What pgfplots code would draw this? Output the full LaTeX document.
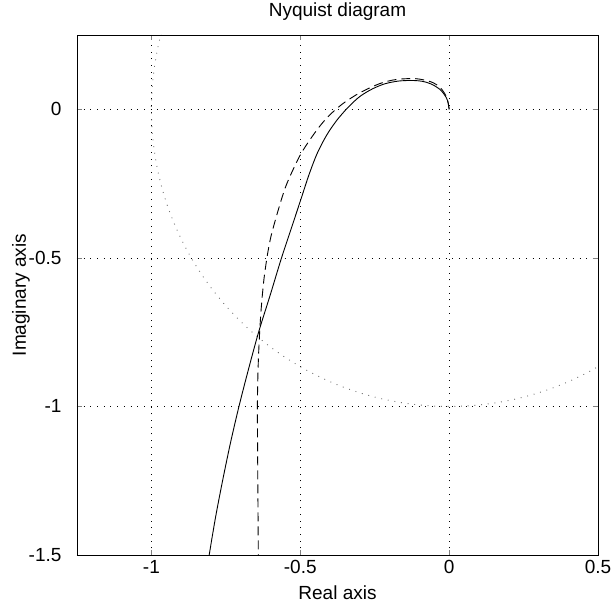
\documentclass[border=0pt]{standalone}
\usepackage{fontspec}
\setmainfont{Liberation Sans}
\usepackage{pgfplots}
\pgfplotsset{compat=1.18}
\begin{document}
\begin{tikzpicture}
\begin{axis}[
  name=ax,
  scale only axis, width=521pt, height=520pt,
  xmin=-1.25, xmax=0.5, ymin=-1.5, ymax=0.25,
  xtick={-1,-0.5,0,0.5}, ytick={-1.5,-1,-0.5,0},
  /pgf/number format/assume math mode=true,
  tick label style={font=\fontsize{19}{22}\selectfont},
  label style={font=\fontsize{19}{22}\selectfont},
  title style={font=\fontsize{19}{22}\selectfont, yshift=5pt},
  title={Nyquist diagram},
  xlabel={Real axis}, ylabel={Imaginary axis},
  xlabel style={yshift=-5pt}, ylabel style={yshift=-8pt},
  xticklabel style={yshift=-2pt}, yticklabel style={xshift=-12pt},
  tick align=inside, major tick length=5pt,
  grid=major, grid style={black, dash pattern=on 0.9pt off 5.8pt, line width=0.7pt},
  axis line style={line width=0.8pt},
]
\draw[black!55, dash pattern=on 0.9pt off 5.8pt, line width=0.9pt] (axis cs:0,0) circle[radius=1];
\addplot[black, line width=0.9pt, smooth] coordinates {
(0,0) (-0.003,0.02) (-0.01,0.04) (-0.03,0.066) (-0.06,0.085) (-0.09,0.094)
(-0.123,0.097) (-0.17,0.095) (-0.215,0.086) (-0.257,0.069) (-0.300,0.043)
(-0.340,0.006) (-0.378,-0.038) (-0.412,-0.088) (-0.443,-0.148) (-0.470,-0.218)
(-0.496,-0.297) (-0.522,-0.376) (-0.563,-0.5) (-0.601,-0.625) (-0.640,-0.75)
(-0.674,-0.875) (-0.706,-1.0) (-0.735,-1.125) (-0.761,-1.25) (-0.785,-1.375)
(-0.806,-1.5)
};
\addplot[black, line width=0.9pt, dash pattern=on 9pt off 5pt, smooth] coordinates {
(0,0) (-0.004,0.025) (-0.011,0.046) (-0.03,0.073) (-0.06,0.092) (-0.112,0.103)
(-0.179,0.1) (-0.234,0.086) (-0.301,0.055) (-0.357,0.019) (-0.402,-0.02)
(-0.437,-0.060) (-0.474,-0.112) (-0.505,-0.163) (-0.547,-0.255) (-0.574,-0.339)
(-0.599,-0.43) (-0.612,-0.5) (-0.623,-0.58) (-0.632,-0.68) (-0.638,-0.78)
(-0.642,-0.88) (-0.644,-1.0) (-0.643,-1.2) (-0.642,-1.35) (-0.641,-1.5)
};
\end{axis}
\pgfresetboundingbox
\path ([xshift=-77pt,yshift=-55pt]ax.south west) rectangle ([xshift=15pt,yshift=35pt]ax.north east);
\end{tikzpicture}
\end{document}
